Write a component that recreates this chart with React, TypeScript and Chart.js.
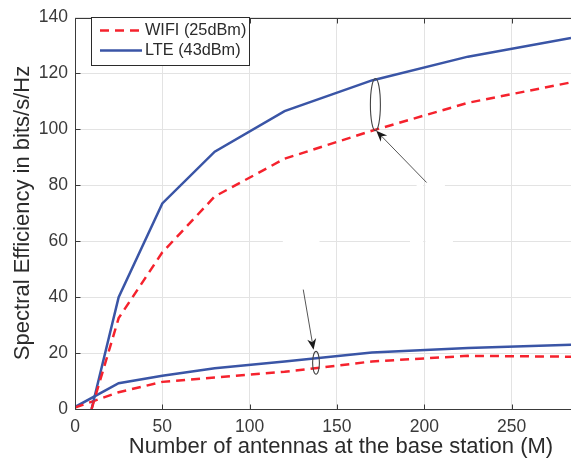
import React, { useEffect, useRef } from "react";
import { Chart, registerables } from "chart.js";
Chart.register(...registerables);

// ---- data ----
const seriesLabels = ["WIFI (25dBm)", "LTE (43dBm)"];
const topX = [9.5, 25, 50, 80, 120, 170, 225, 284];
const wifiTop = [0, 32.5, 56, 76, 89.5, 99.5, 109.5, 116.8];
const lteTop = [0, 40, 73.5, 92, 106.5, 117.5, 126, 132.7];
const bottomX = [0, 25, 50, 80, 120, 170, 225, 284];
const wifiBottom = [0.5, 6, 9.7, 11.3, 13.3, 17, 19, 18.7];
const lteBottom = [0.7, 9.2, 11.9, 14.6, 17, 20.2, 21.8, 23];
const xTicks = [0, 50, 100, 150, 200, 250];
const yTicks = [0, 20, 40, 60, 80, 100, 120, 140];
const xRange = [0, 284];
const yRange = [0, 140];
const xTitle = "Number of antennas at the base station (M)";
const yTitle = "Spectral Efficiency in bits/s/Hz";

// annotations (data coordinates)
const ellipses = [
  { x: 172, y0: 99.5, y1: 118.2, rx: 5 },
  { x: 138, y0: 12.4, y1: 20.6, rx: 3.4 },
];
const arrows = [
  { x0: 201.3, y0: 81, x1: 172.5, y1: 99.5 },
  { x0: 130.7, y0: 42.7, x1: 136.6, y1: 21.2 },
];
const gridGaps = [
  { y: 60, x0: 119, x1: 140 },
  { y: 60, x0: 191.8, x1: 199.4 },
  { y: 60, x0: 200.6, x1: 216.4 },
  { y: 80, x0: 195.6, x1: 199.4 },
  { y: 80, x0: 200.6, x1: 211.8 },
];

const RED = "#f5222d";
const BLUE = "#3a55a6";
const FONT = "'Liberation Sans', Arial, sans-serif";
const TXT = "#2b2b2b";

const toPts = (xs: number[], ys: number[]) => xs.map((x, i) => ({ x, y: ys[i] }));

const overlay = {
  id: "overlay",
  beforeDatasetsDraw(chart: any) {
    const { ctx, scales } = chart;
    const { x, y } = scales;
    ctx.save();
    ctx.strokeStyle = "#ffffff";
    ctx.lineWidth = 3;
    for (const g of gridGaps) {
      const py = y.getPixelForValue(g.y);
      ctx.beginPath();
      ctx.moveTo(x.getPixelForValue(g.x0), py);
      ctx.lineTo(x.getPixelForValue(g.x1), py);
      ctx.stroke();
    }
    ctx.restore();
  },
  afterDraw(chart: any) {
    const { ctx, scales, chartArea } = chart;
    const { x, y } = scales;
    ctx.save();
    // annotations
    ctx.strokeStyle = "#444";
    ctx.lineWidth = 1.1;
    for (const e of ellipses) {
      const cx = x.getPixelForValue(e.x);
      const ya = y.getPixelForValue(e.y0);
      const yb = y.getPixelForValue(e.y1);
      ctx.beginPath();
      ctx.ellipse(cx, (ya + yb) / 2, e.rx, Math.abs(ya - yb) / 2, 0, 0, Math.PI * 2);
      ctx.stroke();
    }
    for (const a of arrows) {
      const px0 = x.getPixelForValue(a.x0);
      const py0 = y.getPixelForValue(a.y0);
      const px1 = x.getPixelForValue(a.x1);
      const py1 = y.getPixelForValue(a.y1);
      const ang = Math.atan2(py1 - py0, px1 - px0);
      const L = 11, W = 4.5, N = 7.5;
      ctx.strokeStyle = "#555";
      ctx.lineWidth = 1;
      ctx.beginPath();
      ctx.moveTo(px0, py0);
      ctx.lineTo(px1 - Math.cos(ang) * N, py1 - Math.sin(ang) * N);
      ctx.stroke();
      const bx = px1 - Math.cos(ang) * L, by = py1 - Math.sin(ang) * L;
      const nx = px1 - Math.cos(ang) * N, ny = py1 - Math.sin(ang) * N;
      ctx.fillStyle = "#1a1a1a";
      ctx.beginPath();
      ctx.moveTo(px1, py1);
      ctx.lineTo(bx + Math.sin(ang) * W, by - Math.cos(ang) * W);
      ctx.lineTo(nx, ny);
      ctx.lineTo(bx - Math.sin(ang) * W, by + Math.cos(ang) * W);
      ctx.closePath();
      ctx.fill();
    }
    // axes frame
    const L0 = Math.round(chartArea.left) + 0.5;
    const B0 = Math.round(chartArea.bottom) + 0.5;
    const T0 = Math.round(chartArea.top) + 0.5;
    const R0 = chartArea.right;
    ctx.strokeStyle = "#3a3a3a";
    ctx.lineWidth = 1;
    ctx.beginPath();
    ctx.moveTo(L0, T0);
    ctx.lineTo(L0, B0);
    ctx.lineTo(R0, B0);
    ctx.moveTo(L0, T0);
    ctx.lineTo(R0, T0);
    for (const t of xTicks) {
      const px = Math.round(x.getPixelForValue(t)) + 0.5;
      ctx.moveTo(px, B0);
      ctx.lineTo(px, B0 - 5);
      ctx.moveTo(px, T0);
      ctx.lineTo(px, T0 + 5);
    }
    for (const t of yTicks) {
      const py = Math.round(y.getPixelForValue(t)) + 0.5;
      ctx.moveTo(L0, py);
      ctx.lineTo(L0 + 5, py);
    }
    ctx.stroke();
    // titles
    ctx.fillStyle = TXT;
    ctx.font = `22px ${FONT}`;
    ctx.textAlign = "center";
    ctx.textBaseline = "middle";
    ctx.fillText(xTitle, 341, 447);
    ctx.save();
    ctx.translate(23, 213);
    ctx.rotate(-Math.PI / 2);
    ctx.fillText(yTitle, 0, 0);
    ctx.restore();
    // legend
    const lx = 91.5, ly = 17.5, lw = 158, lh = 48;
    ctx.fillStyle = "#ffffff";
    ctx.fillRect(lx, ly, lw, lh);
    ctx.strokeStyle = "#2b2b2b";
    ctx.strokeRect(lx, ly, lw, lh);
    const ds = chart.data.datasets;
    const rows = [0, 1];
    rows.forEach((i) => {
      const d = ds[i];
      const yy = ly + 13 + i * 20;
      ctx.strokeStyle = d.borderColor;
      ctx.lineWidth = d.borderWidth;
      ctx.setLineDash(d.borderDash || []);
      ctx.beginPath();
      ctx.moveTo(100, yy);
      ctx.lineTo(142, yy);
      ctx.stroke();
      ctx.setLineDash([]);
      ctx.fillStyle = TXT;
      ctx.font = `16.3px ${FONT}`;
      ctx.textAlign = "left";
      ctx.textBaseline = "middle";
      ctx.fillText(d.label, 145, yy);
    });
    ctx.restore();
  },
};

export default function App() {
  const ref = useRef<HTMLCanvasElement>(null);
  useEffect(() => {
    document.body.style.margin = "0";
    const canvas = ref.current!;
    const common = { fill: false, pointRadius: 0, tension: 0, borderWidth: 2.5 };
    const chart = new Chart(canvas, {
      type: "line",
      data: {
        datasets: [
          { ...common, label: seriesLabels[0], data: toPts(topX, wifiTop), borderColor: RED, borderDash: [9, 6] },
          { ...common, label: seriesLabels[1], data: toPts(topX, lteTop), borderColor: BLUE },
          { ...common, label: seriesLabels[0] + " ", data: toPts(bottomX, wifiBottom), borderColor: RED, borderDash: [9, 6] },
          { ...common, label: seriesLabels[1] + " ", data: toPts(bottomX, lteBottom), borderColor: BLUE },
        ],
      },
      options: {
        animation: false,
        responsive: false,
        devicePixelRatio: 1,
        layout: { padding: { top: 13, right: 0, left: 0, bottom: 0 } },
        plugins: { legend: { display: false }, tooltip: { enabled: false } },
        scales: {
          x: {
            type: "linear",
            min: xRange[0],
            max: xRange[1],
            afterFit: (s: any) => { s.height = 55; },
            afterBuildTicks: (s: any) => { s.ticks = xTicks.map((v) => ({ value: v })); },
            ticks: { includeBounds: false, padding: 8, color: "#3a3a3a", font: { family: FONT, size: 17.5 }, maxRotation: 0 },
            grid: { color: "#e3e3e3", lineWidth: 1, drawTicks: false },
            border: { display: false },
          },
          y: {
            type: "linear",
            min: yRange[0],
            max: yRange[1],
            afterFit: (s: any) => { s.width = 75; },
            afterBuildTicks: (s: any) => { s.ticks = yTicks.map((v) => ({ value: v })); },
            ticks: { padding: 7, color: "#3a3a3a", font: { family: FONT, size: 17.5 } },
            grid: { color: "#e3e3e3", lineWidth: 1, drawTicks: false },
            border: { display: false },
          },
        },
      },
      plugins: [overlay],
    } as any);
    return () => chart.destroy();
  }, []);
  return <canvas ref={ref} width={571} height={464} style={{ display: "block" }} />;
}
